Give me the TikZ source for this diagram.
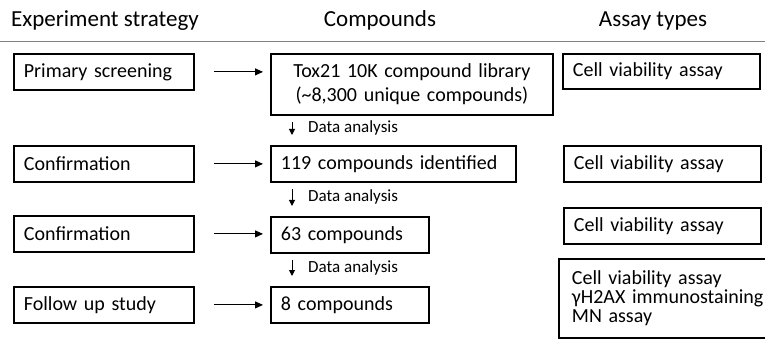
\documentclass[tikz,border=0pt]{standalone}
\usepackage{fontspec}
\setmainfont{Carlito}
\usetikzlibrary{arrows.meta,calc}
\begin{document}
\begin{tikzpicture}[x=1pt,y=-1pt,
  box/.style={draw=black,line width=1.8pt,anchor=north west,inner xsep=10pt,inner ysep=0pt,align=left,font=\fontsize{20}{19}\selectfont},
  hdr/.style={font=\fontsize{23}{24}\selectfont,inner sep=0pt},
  lab/.style={font=\fontsize{17}{18}\selectfont,inner sep=0pt,anchor=west},
  harrow/.style={-{Triangle[length=8pt,width=7pt]},line width=0.9pt,shorten <=19pt,shorten >=7pt},
  varrow/.style={-{Triangle[length=6pt,width=6pt]},line width=1pt,shorten <=6pt,shorten >=10pt},
  rule/.style={draw=gray,line width=1pt}]
\clip (0,0) rectangle (765,347);
\fill[white] (0,0) rectangle (765,347);
% headers
\node[hdr,anchor=base west] (h1) at (11,27) {Experiment strategy};
\node[hdr,anchor=base] (h2) at (380,27) {Compounds};
\node[hdr,anchor=base] (h3) at (653,27) {Assay types};
\coordinate (r0) at (0,42);
\coordinate (r1) at (765,42);
\draw[rule] (r0) -- (r1);
% left column
\node[box,text width=160pt,minimum height=36pt] (s1) at (13,53) {Primary screening};
\node[box,text width=160pt,minimum height=36pt] (s2) at (13,145) {Confirmation};
\node[box,text width=160pt,minimum height=36pt] (s3) at (13,215) {Confirmation};
\node[box,text width=160pt,minimum height=36pt] (s4) at (13,286) {Follow up study};
% compounds column
\node[box,align=center,text width=262pt,minimum height=61pt,font=\fontsize{20}{24}\selectfont] (c1) at (270,53) {Tox21 10K compound library\\(\textasciitilde 8,300 unique compounds)};
\node[box,text width=225pt,minimum height=36pt] (c2) at (270,145) {119 compounds identified};
\node[box,text width=138pt,minimum height=36pt] (c3) at (270,216) {63 compounds};
\node[box,text width=138pt,minimum height=36pt] (c4) at (270,286) {8 compounds};
% assay column
\node[box,text width=177pt,minimum height=35pt] (a1) at (562,53) {Cell viability assay};
\node[box,text width=177pt,minimum height=36pt] (a2) at (563,145) {Cell viability assay};
\node[box,text width=177pt,minimum height=36pt] (a3) at (563,207) {Cell viability assay};
\node[box,inner xsep=13pt,text width=200pt,minimum height=79pt] (a4) at (558,258) {Cell viability assay\\γH2AX immunostaining\\MN assay};
% horizontal arrows
\draw[harrow] (s1.east) -- (s1.east -| c1.west);
\draw[harrow] (s2.east) -- (s2.east -| c2.west);
\draw[harrow] (s3.east) -- (s3.east -| c3.west);
\draw[harrow] (s4.east) -- (s4.east -| c4.west);
% vertical arrows
\coordinate (ax) at (292,0);
\draw[varrow] (ax |- c1.south) -- (ax |- c2.north);
\draw[varrow] (ax |- c2.south) -- (ax |- c3.north);
\draw[varrow] (ax |- c3.south) -- (ax |- c4.north);
\node[lab] (l1) at ($(ax |- c1.south)!0.5!(ax |- c2.north)+(16,-2)$) {Data analysis};
\node[lab] (l2) at ($(ax |- c2.south)!0.5!(ax |- c3.north)+(16,-2)$) {Data analysis};
\node[lab] (l3) at ($(ax |- c3.south)!0.5!(ax |- c4.north)+(16,-2)$) {Data analysis};
\end{tikzpicture}
\end{document}
